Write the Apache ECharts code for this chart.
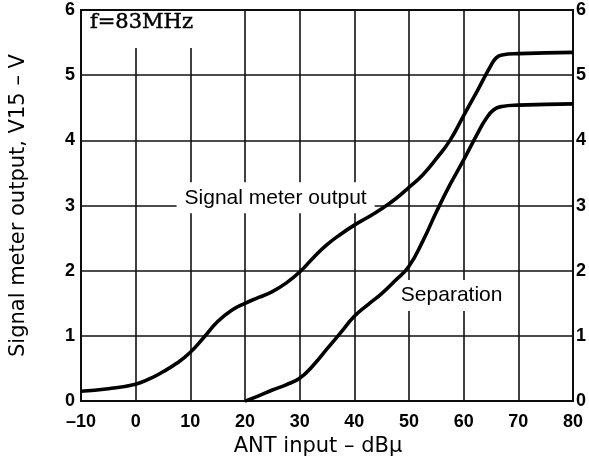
<!DOCTYPE html>
<html>
<head>
<meta charset="utf-8">
<script src="https://cdn.jsdelivr.net/npm/echarts@6/dist/echarts.min.js"></script>
<style>
    html, body { margin: 0; padding: 0; background: #fff; }
    #chart { width: 589px; height: 462px; }
</style>
</head>
<body>
<div id="chart"></div>
<script>
// 信号表输出 (Signal meter output), x = ANT input dBμ, y = V
const meterX = [-10, -5, 0, 2.5, 5, 7.5, 10, 12.5, 15, 17.5, 20, 22.5, 25, 27.5, 30, 32.5, 35, 37.5, 40, 42.5, 45, 47.5, 50, 52.5, 55, 57.5, 60, 62.5, 65, 66, 67, 70, 80]
const meterY = [0.15, 0.19, 0.26, 0.34, 0.45, 0.58, 0.75, 0.98, 1.22, 1.39, 1.5, 1.59, 1.68, 1.81, 1.98, 2.2, 2.4, 2.56, 2.7, 2.82, 2.95, 3.1, 3.28, 3.47, 3.72, 4.0, 4.38, 4.76, 5.15, 5.27, 5.31, 5.33, 5.35]

// 分离度 (Separation)
const sepX = [20, 22.5, 25, 27.5, 30, 32.5, 35, 37.5, 40, 42.5, 45, 47.5, 50, 52.5, 55, 57.5, 60, 62.5, 64, 65.5, 67, 70, 80]
const sepY = [0, 0.08, 0.17, 0.25, 0.35, 0.55, 0.8, 1.05, 1.3, 1.48, 1.65, 1.85, 2.07, 2.45, 2.9, 3.32, 3.7, 4.1, 4.32, 4.47, 4.52, 4.54, 4.56]

// 曲线标注
const noteText = ['Signal meter output', 'Separation']
const noteX = [25.6, 57.8]
const noteY = [3.12, 1.62]

const chart = echarts.init(document.getElementById('chart'))

const tickFont = {
    color: '#000',
    fontFamily: '"Liberation Sans", Arial, sans-serif',
    fontWeight: 'bold',
    fontSize: 18
}
const gridLine = { show: true, lineStyle: { color: '#111', width: 1.6 } }

const option = {
    animation: false,
    backgroundColor: '#fff',
    grid: {
        left: 81, right: 10, top: 10, bottom: 52,
        containLabel: false,
        show: true,
        borderColor: '#000',
        borderWidth: 2
    },
    xAxis: {
        type: 'value',
        min: -10, max: 80, interval: 10,
        name: 'ANT input – dBμ',
        nameLocation: 'middle',
        nameGap: 26,
        nameTextStyle: { color: '#000', fontFamily: '"DejaVu Sans", sans-serif', fontSize: 21, padding: [0, 18, 0, 0] },
        axisLine: { show: false },
        axisTick: { show: false },
        axisLabel: { ...tickFont, margin: 12, formatter: v => String(v).replace('-', '–') },
        splitLine: gridLine
    },
    yAxis: [
        {
            type: 'value',
            min: 0, max: 6, interval: 1,
            name: 'Signal meter output, V15 – V',
            nameLocation: 'middle',
            nameGap: 52,
            nameTextStyle: { color: '#000', fontFamily: '"DejaVu Sans", sans-serif', fontSize: 21 },
            axisLine: { show: false },
            axisTick: { show: false },
            axisLabel: { ...tickFont, margin: 6 },
            splitLine: gridLine
        },
        {
            type: 'value',
            position: 'right',
            min: 0, max: 6, interval: 1,
            axisLine: { show: false },
            axisTick: { show: false },
            axisLabel: { ...tickFont, margin: 3 },
            splitLine: { show: false }
        }
    ],
    graphic: [
        {
            type: 'rect',
            z: 10,
            shape: { x: 82, y: 11, width: 162, height: 37 },
            style: { fill: '#fff' }
        },
        {
            type: 'text',
            z: 11,
            x: 90, y: 23,
            style: {
                text: 'f=83MHz',
                font: '21px "DejaVu Serif", serif',
                fill: '#000',
                stroke: '#000',
                lineWidth: 0.5,
                verticalAlign: 'middle'
            }
        }
    ],
    series: [
        {
            name: 'labels',
            type: 'scatter',
            z: 2,
            symbolSize: 0,
            silent: true,
            itemStyle: { opacity: 1 },
            data: noteText.map((t, i) => ({ name: t, value: [noteX[i], noteY[i]] })),
            label: {
                show: true,
                position: 'inside',
                formatter: p => p.name,
                color: '#000',
                fontFamily: '"Liberation Sans", Arial, sans-serif',
                fontSize: 21,
                backgroundColor: '#fff',
                padding: [5, 8]
            }
        },
        {
            name: 'Signal meter output',
            type: 'line',
            z: 3,
            smooth: 0.5,
            showSymbol: false,
            lineStyle: { color: '#000', width: 3.6 },
            data: meterX.map((x, i) => [x, meterY[i]])
        },
        {
            name: 'Separation',
            type: 'line',
            z: 3,
            smooth: 0.5,
            showSymbol: false,
            lineStyle: { color: '#000', width: 3.6 },
            data: sepX.map((x, i) => [x, sepY[i]])
        }
    ]
}

chart.setOption(option)
</script>
</body>
</html>
